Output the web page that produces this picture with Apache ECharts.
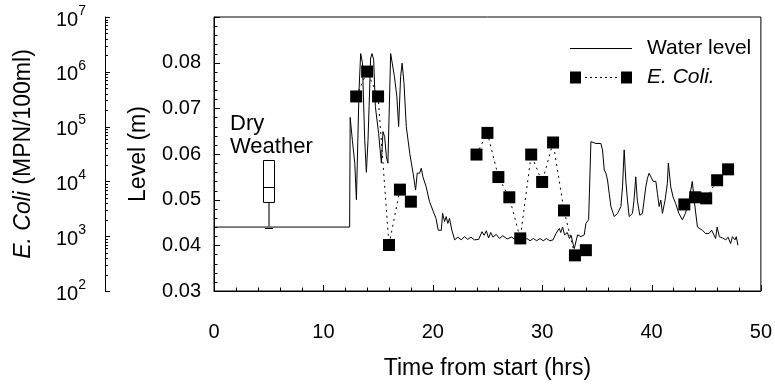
<!DOCTYPE html>
<html>
<head>
<meta charset="utf-8">
<script src="https://cdn.jsdelivr.net/npm/echarts@6/dist/echarts.min.js"></script>
<style>html,body{margin:0;padding:0;background:#fff;}#c{width:775px;height:387px;}</style>
</head>
<body>
<div id="c"></div>
<script>
// Water level trace (hours, metres)
const levelTime = [0,12.4,12.45,12.65,12.87,13.02,13.26,13.41,13.57,13.78,13.93,14.08,14.32,14.45,14.6,14.75,15.05,15.3,15.45,15.6,15.76,15.9,16.15,16.3,16.5,16.72,16.88,17.06,17.2,17.37,17.58,17.9,18.2,18.43,18.58,18.8,18.95,19.1,19.4,19.7,20.0,20.3,20.5,20.78,20.9,21.08,21.23,21.38,21.53,21.75,22.0,22.3,22.6,22.9,23.2,23.5,23.8,24.2,24.5,24.7,24.9,25.1,25.3,25.5,25.8,26.1,26.4,26.8,27.2,27.6,28.0,28.3,28.6,28.9,29.2,29.5,29.8,30.1,30.4,30.7,31.0,31.27,31.57,31.7,31.87,32.05,32.3,32.5,32.65,32.78,32.94,33.24,33.55,33.85,34.0,34.25,34.46,34.6,34.92,35.37,35.52,35.68,35.83,35.98,36.13,36.29,36.59,36.9,37.2,37.35,37.5,37.65,37.8,37.96,38.26,38.4,38.56,38.7,38.93,39.17,39.48,39.63,39.78,39.93,40.15,40.4,40.54,40.7,40.85,41.0,41.24,41.45,41.54,41.76,41.97,42.2,42.5,42.82,43.1,43.43,43.73,43.9,44.2,44.65,44.95,45.26,45.5,45.86,46.0,46.2,46.5,46.78,47.0,47.23,47.4,47.63,47.75,47.9];
const levelValue = [0.044,0.044,0.068,0.063,0.058,0.050,0.074,0.082,0.080,0.063,0.056,0.063,0.081,0.082,0.0806,0.0704,0.0645,0.058,0.0649,0.0638,0.0594,0.058,0.082,0.0817,0.0769,0.0725,0.066,0.0769,0.0799,0.0755,0.066,0.0601,0.0558,0.0521,0.0558,0.0558,0.0569,0.055,0.0528,0.0496,0.0477,0.0459,0.0433,0.0433,0.047,0.0452,0.0463,0.0448,0.0459,0.0433,0.0412,0.0418,0.0412,0.0419,0.0413,0.0418,0.0412,0.0413,0.0430,0.0422,0.0432,0.0416,0.0428,0.0418,0.0424,0.0415,0.0421,0.0414,0.0418,0.0412,0.0414,0.0410,0.0415,0.0410,0.0415,0.0410,0.0415,0.0410,0.0415,0.0410,0.0412,0.0426,0.0437,0.0428,0.0440,0.0423,0.0428,0.0415,0.0422,0.0408,0.0393,0.0423,0.0419,0.0423,0.0448,0.0456,0.0627,0.0631,0.0623,0.0623,0.0609,0.0565,0.0558,0.0543,0.0514,0.0485,0.0463,0.0470,0.0485,0.0528,0.0609,0.0543,0.0499,0.0463,0.0470,0.0499,0.0550,0.0499,0.0466,0.0470,0.0528,0.0547,0.0558,0.0555,0.0540,0.0540,0.0514,0.0485,0.0499,0.0470,0.0499,0.0536,0.0580,0.0528,0.0506,0.0492,0.0470,0.0456,0.0470,0.0499,0.0540,0.0499,0.0440,0.0433,0.0426,0.0426,0.0433,0.0415,0.0440,0.0419,0.0416,0.0412,0.0418,0.0404,0.0419,0.0412,0.0419,0.0400];

// E. coli samples (hours, MPN/100ml); null = gap in sampling
const ecoliTime  = [13,14,15,16,17,18,21,24,25,26,27,28,29,30,31,32,33,34,40,43,44,45,46,47];
const ecoliValue = [355000,1010000,355000,690,7080,4270,null,30900,76700,12000,5130,912,30900,9770,51300,2950,447,556,null,3800,5130,4900,10500,16600];

// Dry weather box: [time, min, Q1, median, Q3, max]
const dryTime = [5];
const dryStats = [[1440, 4280, 8000, 25000, 25000]];

// Tick positions (axis values)
const xMajorTicks = [0,10,20,30,40,50];
const levelMajorTicks = [0.03,0.04,0.05,0.06,0.07,0.08,0.09];
const levelLabels = [0.03,0.04,0.05,0.06,0.07,0.08];
const logMajorTicks = [1e2,1e3,1e4,1e5,1e6,1e7];

const FONT = '"Liberation Sans", Arial, sans-serif';
const X_MIN = 0, X_MAX = 50, L_MIN = 0.03, L_MAX = 0.09;
const LOG_AXIS_OFFSET = 109;

const levelData = levelTime.map((t,i)=>[t, levelValue[i]]);
const ecoliData = ecoliTime.map((t,i)=>[t, ecoliValue[i] == null ? '-' : ecoliValue[i]]);
const boxData = dryTime.map((t,i)=>[t].concat(dryStats[i]));

const crisp = v => Math.round(v) + 0.5;

const lineIcon = 'path://M0,0h0.01v0.01h-0.01zM61.99,11.99h0.01v0.01h-0.01zM0,5.5h62v1.1h-62z';
const ecoliIcon = 'path://M0,0h11v12h-11zM51,0h11v12h-11zM15,5.5h2v1h-2zM20,5.5h2v1h-2zM25,5.5h2v1h-2zM30,5.5h2v1h-2zM35,5.5h2v1h-2zM40,5.5h2v1h-2zM45,5.5h2v1h-2z';

const dryText = {
  id: 'dryText', type: 'text', left: 230, top: 112,
  style: {text: 'Dry\nWeather', font: '22px ' + FONT, fill: '#000', lineHeight: 23}
};

const chart = echarts.init(document.getElementById('c'));
chart.setOption({
  animation: false,
  textStyle: {fontFamily: FONT, color: '#000'},
  grid: {left: 214, right: 13, top: 17, bottom: 96, show: true, borderColor: '#000', borderWidth: 1, backgroundColor: 'transparent'},
  legend: {
    orient: 'vertical', left: 570, top: 38, padding: 0, itemWidth: 62, itemHeight: 12, itemGap: 8,
    textStyle: {fontSize: 21, fontFamily: FONT, color: '#000', lineHeight: 21, padding: [0,0,0,10],
      rich: {i: {fontStyle: 'italic', fontSize: 21, fontFamily: FONT, color: '#000'}}},
    formatter: n => n === 'E. Coli.' ? '{i|E. Coli.}' : n,
    data: [{name: 'Water level', icon: lineIcon}, {name: 'E. Coli.', icon: ecoliIcon}]
  },
  graphic: [dryText],
  xAxis: {
    type: 'value', min: X_MIN, max: X_MAX, interval: 10,
    axisLine: {show: true, lineStyle: {color: '#000', width: 1}},
    axisTick: {show: false}, minorTick: {show: false},
    splitLine: {show: false},
    axisLabel: {show: true, fontSize: 20, color: '#000', margin: 31, fontFamily: FONT},
    name: 'Time from start (hrs)', nameLocation: 'middle', nameGap: 66,
    nameTextStyle: {fontSize: 23, color: '#000', fontFamily: FONT}
  },
  yAxis: [{
    type: 'value', min: L_MIN, max: L_MAX, interval: 0.01, position: 'left',
    axisLine: {show: true, lineStyle: {color: '#000', width: 1}},
    axisTick: {show: false}, minorTick: {show: false},
    splitLine: {show: false},
    axisLabel: {show: true, fontSize: 20, color: '#000', margin: 13, fontFamily: FONT,
      formatter: v => levelLabels.some(t => Math.abs(t - v) < 1e-6) ? v.toFixed(2) : ''},
    name: 'Level (m)', nameLocation: 'middle', nameGap: 64,
    nameTextStyle: {fontSize: 23, color: '#000', fontFamily: FONT}
  }, {
    type: 'log', logBase: 10, min: 100, max: 10000000, position: 'left', offset: LOG_AXIS_OFFSET,
    axisLine: {show: true, lineStyle: {color: '#000', width: 1}},
    axisTick: {show: false}, minorTick: {show: false},
    splitLine: {show: false},
    axisLabel: {show: true, color: '#000', margin: 19, fontFamily: FONT,
      formatter: v => '{b|10}{s|' + Math.round(Math.log10(v)) + '}',
      rich: {
        b: {fontSize: 20, lineHeight: 26, verticalAlign: 'bottom', fontFamily: FONT, color: '#000'},
        s: {fontSize: 14, lineHeight: 15, verticalAlign: 'top', fontFamily: FONT, color: '#000'}
      }},
    name: '{i|E. Coli} (MPN/100ml)', nameLocation: 'middle', nameGap: 70,
    nameTextStyle: {fontSize: 23, color: '#000', fontFamily: FONT,
      rich: {i: {fontStyle: 'italic', fontSize: 23, fontFamily: FONT, color: '#000'}}}
  }],
  series: [{
    name: 'Water level', type: 'line', yAxisIndex: 0, data: levelData,
    symbol: 'none', lineStyle: {color: '#000', width: 1}, itemStyle: {color: '#000'}, z: 2
  }, {
    name: 'E. Coli.', type: 'line', yAxisIndex: 1, data: ecoliData,
    symbol: 'rect', symbolSize: 12, showAllSymbol: true, connectNulls: false,
    lineStyle: {color: '#000', width: 1, type: [2, 4]}, itemStyle: {color: '#000'}, z: 3
  }, {
    name: 'Dry weather', type: 'custom', yAxisIndex: 1, data: boxData, z: 4, clip: false,
    renderItem: function (params, api) {
      const x = api.value(0);
      const pMin = api.coord([x, api.value(1)]);
      const pQ1 = api.coord([x, api.value(2)]);
      const pMed = api.coord([x, api.value(3)]);
      const pQ3 = api.coord([x, api.value(4)]);
      const pMax = api.coord([x, api.value(5)]);
      const hw = 5.5, cw = 4;
      const cx = Math.round(pMin[0]);
      const children = [
        {type: 'line', shape: {x1: cx, y1: pQ1[1], x2: cx, y2: pMin[1]}, style: {stroke: '#777', lineWidth: 2}},
        {type: 'line', shape: {x1: cx - cw, y1: crisp(pMin[1]), x2: cx + cw, y2: crisp(pMin[1])}, style: {stroke: '#000', lineWidth: 1}},
        {type: 'rect', shape: {x: cx - hw, y: crisp(pQ3[1]), width: 2 * hw, height: Math.round(pQ1[1] - pQ3[1])}, style: {fill: '#fff', stroke: '#000', lineWidth: 1}},
        {type: 'line', shape: {x1: cx - hw, y1: crisp(pMed[1]), x2: cx + hw, y2: crisp(pMed[1])}, style: {stroke: '#000', lineWidth: 1}}
      ];
      if (pMax[1] < pQ3[1] - 0.5) {
        children.push({type: 'line', shape: {x1: cx, y1: pQ3[1], x2: cx, y2: pMax[1]}, style: {stroke: '#777', lineWidth: 2}});
      }
      return {type: 'group', children: children};
    }
  }]
});

// Inward tick marks, positioned through the chart's own axis scales
const px = v => chart.convertToPixel({xAxisIndex: 0}, v);
const pyLevel = v => chart.convertToPixel({yAxisIndex: 0}, v);
const pyLog = v => chart.convertToPixel({yAxisIndex: 1}, v);
const xBottom = pyLevel(L_MIN);
const xLeft = px(X_MIN);
const logX = xLeft - LOG_AXIS_OFFSET;
const tickEls = [];
let tid = 0;
function vTick(x, y, len) {
  const cx = crisp(x);
  tickEls.push({id: 'tk' + (tid++), type: 'line', z: 100, silent: true,
    shape: {x1: cx, y1: y, x2: cx, y2: y - len}, style: {stroke: '#000', lineWidth: 1}});
}
function hTick(x, y, len) {
  const cy = crisp(y);
  tickEls.push({id: 'tk' + (tid++), type: 'line', z: 100, silent: true,
    shape: {x1: x, y1: cy, x2: x + len, y2: cy}, style: {stroke: '#000', lineWidth: 1}});
}
xMajorTicks.forEach((v, i) => {
  vTick(px(v), xBottom, 6);
  if (i < xMajorTicks.length - 1) {
    const step = (xMajorTicks[i+1] - v) / 5;
    for (let k = 1; k < 5; k++) vTick(px(v + k * step), xBottom, 3.5);
  }
});
levelMajorTicks.forEach((v, i) => {
  hTick(xLeft, pyLevel(v), 6);
  if (i < levelMajorTicks.length - 1) {
    const step = (levelMajorTicks[i+1] - v) / 5;
    for (let k = 1; k < 5; k++) hTick(xLeft, pyLevel(v + k * step), 3.5);
  }
});
logMajorTicks.forEach((v, i) => {
  hTick(logX, pyLog(v), 5);
  if (i < logMajorTicks.length - 1) {
    for (let m = 2; m < 10; m++) hTick(logX, pyLog(v * m), 3);
  }
});
chart.setOption({graphic: [dryText].concat(tickEls)});
</script>
</body>
</html>
